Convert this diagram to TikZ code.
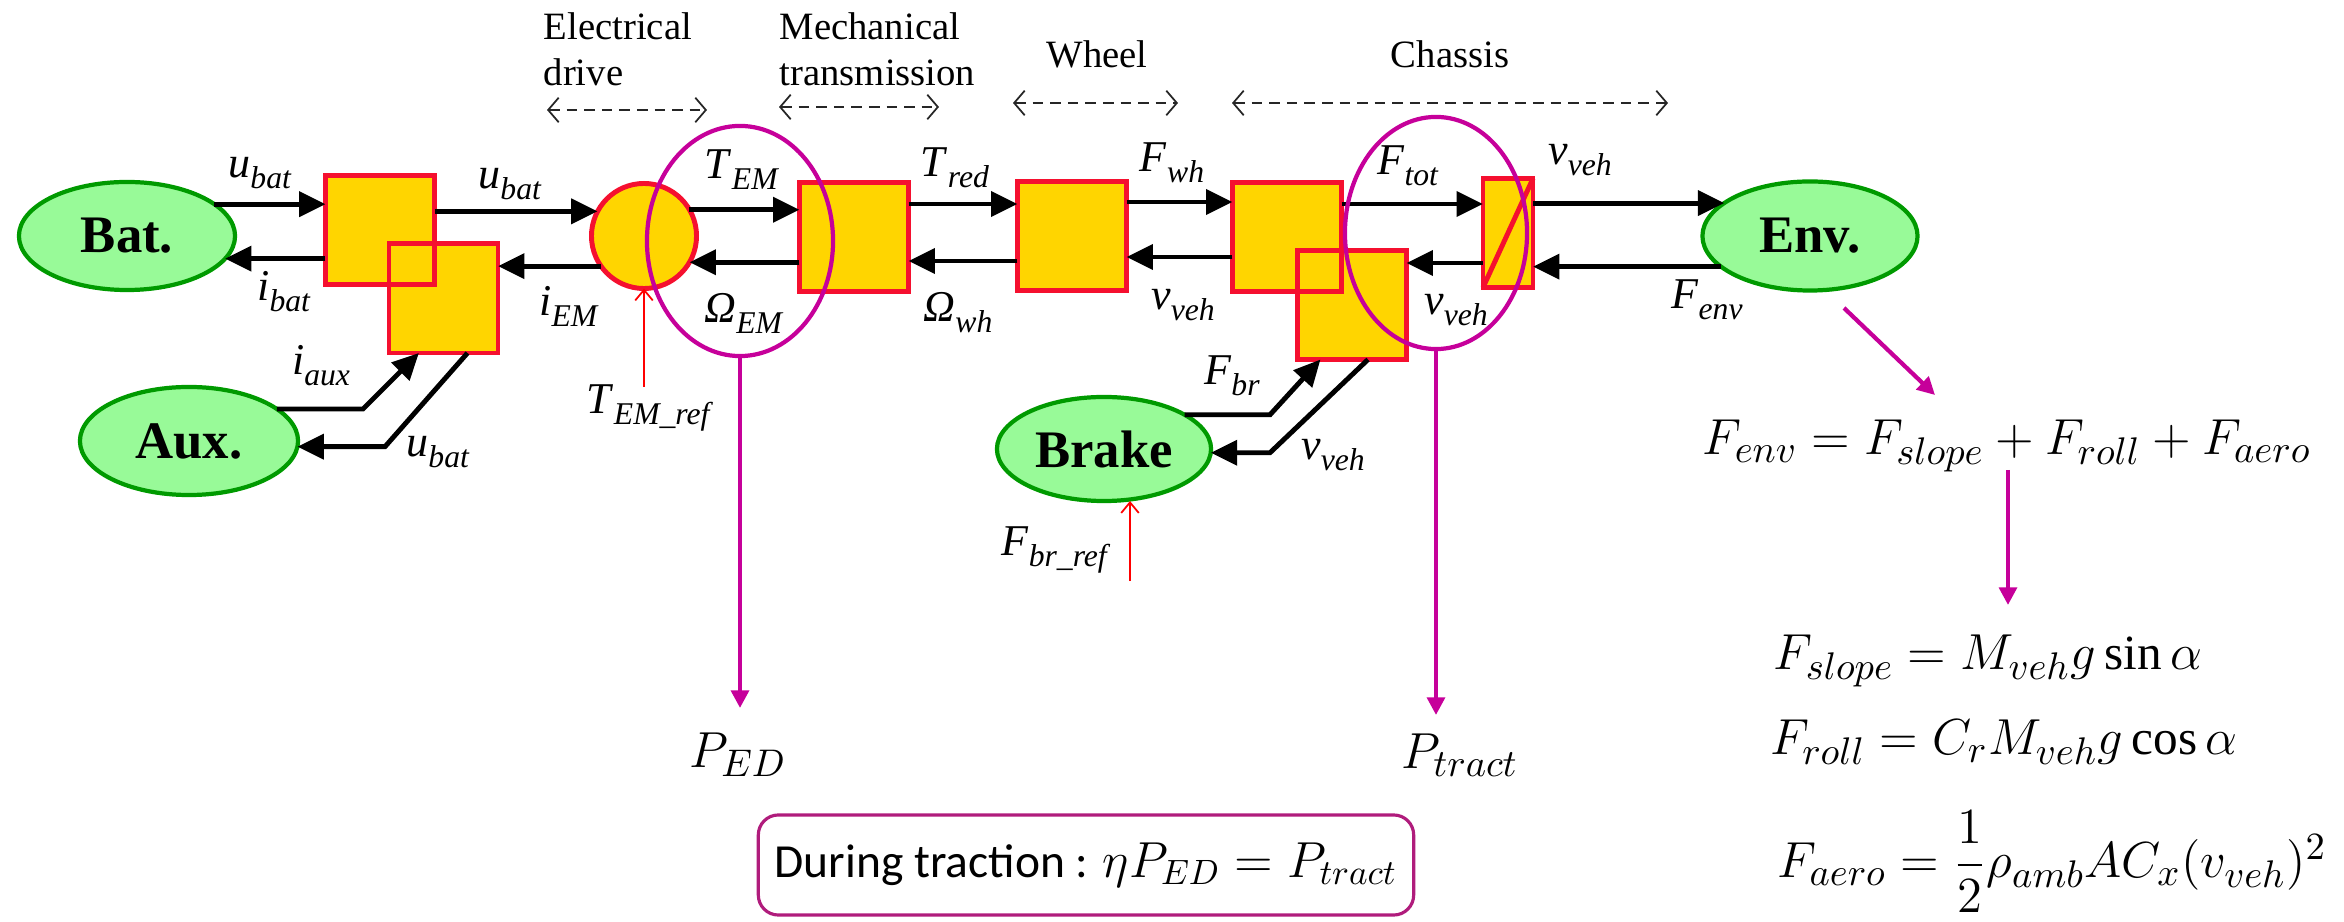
\documentclass[tikz,border=0pt]{standalone}
\usepackage{amsmath}
\usepackage{fontspec}
\setmainfont{Liberation Serif}
\newfontfamily\calib{Carlito}
\DeclareMathSizes{14}{14}{10.6}{8}
\DeclareMathSizes{13.5}{13.5}{10.2}{8}
\usetikzlibrary{arrows.meta,shapes.geometric,calc}
\definecolor{boxfill}{HTML}{FFD500}
\definecolor{boxline}{HTML}{F5102F}
\definecolor{elfill}{HTML}{98FA98}
\definecolor{elline}{HTML}{009A00}
\definecolor{mag}{HTML}{C6009A}
\definecolor{rbox}{HTML}{B01C7C}
\newcommand{\lbl}[2]{\textit{#1}\raisebox{-0.25em}{\fontsize{9}{9}\selectfont\textit{#2}}}
\begin{document}
\begin{tikzpicture}[x=0.01cm,y=-0.01cm,
  box/.style={draw=boxline,fill=boxfill,line width=1.4pt,minimum width=1.09cm,minimum height=1.09cm,inner sep=0pt,outer sep=0pt},
  boxedge/.style={draw=boxline,line width=1.4pt},
  el/.style={ellipse,draw=elline,fill=elfill,line width=1.2pt,inner sep=0pt,outer sep=0pt,font=\fontsize{15}{15}\selectfont\bfseries},
  arr/.style={line width=1.4pt,-{Triangle[length=7.5pt,width=7pt]}},
  lab/.style={font=\fontsize{12.5}{13}\selectfont,inner sep=0pt},
  mage/.style={ellipse,draw=mag,line width=1.2pt,inner sep=0pt,outer sep=0pt},
  magarr/.style={draw=mag,line width=1.2pt,-{Triangle[length=5pt,width=5pt]}},
  refarr/.style={draw=red,line width=0.5pt,-{Straight Barb[length=3pt,width=5pt]}},
  dim/.style={black!85,line width=0.5pt,dash pattern=on 3pt off 2pt,{Straight Barb[length=3pt,width=7pt]}-{Straight Barb[length=3pt,width=7pt]}},
  head/.style={font=\fontsize{11}{13.1}\selectfont,inner sep=0pt,align=left},
  eqn/.style={font=\fontsize{14}{16}\selectfont,inner sep=0pt}
]
\useasboundingbox (0,0) rectangle (2344,922);

% headers
\node[head,anchor=north west] (hed) at (543,12) {Electrical\\drive};
\node[head,anchor=north west] (hmt) at (779,12) {Mechanical\\transmission};
\node[head,anchor=base] (hwh) at (1097,68) {Wheel};
\node[head,anchor=base] (hch) at (1450,68) {Chassis};
\coordinate (d1a) at (547,110); \coordinate (d1b) at (707,110);
\coordinate (d2a) at (779,107); \coordinate (d2b) at (939,107);
\coordinate (d3a) at (1013,103); \coordinate (d3b) at (1178,103);
\coordinate (d4a) at (1232,103); \coordinate (d4b) at (1668,103);
\draw[dim] (d1a) -- (d1b);
\draw[dim] (d2a) -- (d2b);
\draw[dim] (d3a) -- (d3b);
\draw[dim] (d4a) -- (d4b);

% sources
\node[el,minimum width=2.16cm,minimum height=1.08cm] (bat) at (127,236) {Bat.};
\node[el,minimum width=2.18cm,minimum height=1.08cm] (aux) at (189,441) {Aux.};
\node[el,minimum width=2.15cm,minimum height=1.09cm] (env) at (1810,236) {Env.};
\node[el,minimum width=2.14cm,minimum height=1.04cm] (brake) at (1104,449) {Brake};

% blocks
\node[box] (box1) at (380,230) {};
\node[box] (box2) at (443.5,298.5) {};
\draw[boxedge] (box1.south west) rectangle (box1.north east);
\node[circle,draw=boxline,fill=boxfill,line width=1.4pt,minimum size=1.05cm,inner sep=0pt,outer sep=0pt] (em) at (644,236) {};
\node[box] (box3) at (854,237) {};
\node[box] (box4) at (1072,236) {};
\node[box] (box5) at (1287,237) {};
\node[box] (box6) at (1352,305) {};
\draw[boxedge] (box5.south west) rectangle (box5.north east);
\node[box,minimum width=0.5cm] (box7) at (1508,233) {};
\draw[boxedge] (box7.south west) -- (box7.north east);

% power arrows
\draw[arr] (bat.20) -- (bat.20 -| box1.west);
\draw[arr] (box1.west |- bat.-13) -- (bat.-13);
\draw[arr] (em.152 -| box1.east) -- (em.152);
\draw[arr] (em.215) -- (em.215 -| box2.east);
\draw[arr] (em.30) -- (em.30 -| box3.west);
\draw[arr] (em.-30 -| box3.west) -- (em.-30);
\draw[arr] (box3.east |- 0,204) -- (box4.west |- 0,204);
\draw[arr] (box4.west |- 0,261) -- (box3.east |- 0,261);
\draw[arr] (box4.east |- 0,202) -- (box5.west |- 0,202);
\draw[arr] (box5.west |- 0,257) -- (box4.east |- 0,257);
\draw[arr] (box5.east |- 0,204) -- (box7.west |- 0,204);
\draw[arr] (box7.west |- 0,263) -- (box6.east |- 0,263);
\draw[arr] (box7.east |- env.159) -- (env.159);
\draw[arr] (env.199) -- (env.199 -| box7.east);
\draw[arr] (aux.20) -- (aux.20 -| 363,0) -- ($(box2.south west)+(30,0)$);
\draw[arr] ($(box2.south)+(24,0)$) -- (aux.-3 -| 385,0) -- (aux.-3);
\draw[arr] (brake.23) -- (brake.23 -| 1270,0) -- ($(box6.south west)+(23,0)$);
\draw[arr] ($(box6.south)+(16,0)$) -- (brake.-2 -| 1270,0) -- (brake.-2);

% references
\draw[refarr] (em.south |- 0,387) -- (em.south);
\draw[refarr] ($(brake.south)+(26,80)$) -- ($(brake.south)+(26,0)$);

% labels
\node[lab] (l1) at (260,173) {\lbl{u}{bat}};
\node[lab] (l2) at (284,292) {\lbl{i}{bat}};
\node[lab] (l3) at (510,184) {\lbl{u}{bat}};
\node[lab] (l4) at (569,306) {\lbl{i}{EM}};
\node[lab] (l5) at (742,170) {\lbl{T}{EM}};
\node[lab] (l6) at (744,313) {\lbl{Ω}{EM}};
\node[lab] (l7) at (650,408) {\lbl{T}{EM\_ref}};
\node[lab] (l8) at (955,168) {\lbl{T}{red}};
\node[lab] (l9) at (958,313) {\lbl{Ω}{wh}};
\node[lab] (l10) at (1172,163) {\lbl{F}{wh}};
\node[lab] (l11) at (1183,305) {\lbl{v}{veh}};
\node[lab] (l12) at (1408,166) {\lbl{F}{tot}};
\node[lab] (l13) at (1456,310) {\lbl{v}{veh}};
\node[lab] (l14) at (1580,160) {\lbl{v}{veh}};
\node[lab] (l15) at (1707,300) {\lbl{F}{env}};
\node[lab] (l16) at (321,366) {\lbl{i}{aux}};
\node[lab] (l17) at (438,452) {\lbl{u}{bat}};
\node[lab] (l18) at (1232,376) {\lbl{F}{br}};
\node[lab] (l19) at (1333,455) {\lbl{v}{veh}};
\node[lab] (l20) at (1056,550) {\lbl{F}{br\_ref}};

% magenta power markers
\node[mage,minimum width=1.86cm,minimum height=2.3cm] (ml) at (740,241) {};
\node[mage,minimum width=1.82cm,minimum height=2.32cm] (mr) at (1436,233) {};
\node[eqn] (ped) at (738,755) {$P_{ED}$};
\node[eqn] (ptr) at (1460,755) {$P_{tract}$};
\draw[magarr] (ml.south) -- (ml.south |- 0,708);
\draw[magarr] (mr.south) -- (mr.south |- 0,715);
\node[draw=rbox,line width=0.9pt,rounded corners=0.2cm,minimum width=6.55cm,minimum height=1.0cm,inner sep=0pt,font=\calib\fontsize{13.5}{15}\selectfont] (trac) at (1086,865) {During traction : $\eta P_{ED} = P_{tract}$};

% environment equations
\coordinate (et) at (1844,308);
\coordinate (eh) at (1935,395);
\draw[magarr] (et) -- (eh);
\node[eqn,anchor=base] (eq1) at (2007,455) {$F_{env}=F_{slope}+F_{roll}+F_{aero}$};
\coordinate (vt) at (2008,470);
\coordinate (vh) at (2008,605);
\draw[magarr] (vt) -- (vh);
\node[eqn,anchor=base] (eq2) at (1988,670) {$F_{slope}=M_{veh}g\sin\alpha$};
\node[eqn,anchor=base] (eq3) at (2004,755) {$F_{roll}=C_rM_{veh}g\cos\alpha$};
\node[eqn,anchor=base] (eq4) at (2052,878) {$F_{aero}=\dfrac{1}{2}\rho_{amb}AC_x(v_{veh})^2$};
\end{tikzpicture}
\end{document}
